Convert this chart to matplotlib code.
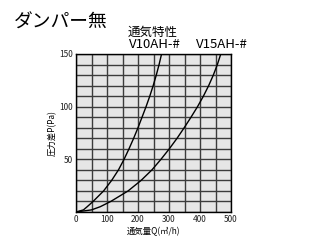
import matplotlib.pyplot as plt
import numpy as np

plt.rcParams['font.family'] = ['Noto Sans CJK JP', 'DejaVu Sans']

# readings (P in Pa, Q in m3/h)
pressure = [0, 2, 5, 10, 20, 30, 40, 50, 60, 70, 80, 90, 100, 110, 120, 130, 140, 150]
q_v10 = [0, 24, 36, 55, 89, 115, 137, 155, 171, 186, 200, 213, 226, 238, 249, 259, 268, 276]
q_v15 = [0, 50, 78, 112, 168, 210, 245, 274, 301, 326, 349, 371, 392, 411, 428, 443, 456, 467]

x_ticks = [0, 100, 200, 300, 400, 500]
y_ticks = [50, 100, 150]

fig = plt.figure(figsize=(3.2, 2.4), dpi=100)
ax = fig.add_axes([76 / 320, 1 - 212 / 240, 155 / 320, 158 / 240])
ax.set_facecolor('#e6e6e6')

ax.plot(q_v10, pressure, color='black', lw=1.0)
ax.plot(q_v15, pressure, color='black', lw=1.0)

ax.set_xlim(0, 500)
ax.set_ylim(0, 150)
ax.set_xticks(x_ticks)
ax.set_yticks(y_ticks)
ax.set_xticks(np.arange(0, 501, 50), minor=True)
ax.set_yticks(np.arange(0, 151, 10), minor=True)
ax.grid(which='both', color='#3c3c3c', lw=1.0)
ax.set_axisbelow(True)
ax.tick_params(which='both', length=0, labelsize=6, pad=2, colors='#222222')
for s in ax.spines.values():
    s.set_color('black')
    s.set_linewidth(1.0)

ax.set_xlabel('通気量Q(㎥/h)', fontsize=6, labelpad=2)
ax.set_ylabel('圧力差P(Pa)', fontsize=6, labelpad=2)

fig.text(14 / 320, 1 - 22 / 240, 'ダンパー無', fontsize=13.5, va='center', ha='left')
fig.text(128 / 320, 1 - 32 / 240, '通気特性', fontsize=9, va='center', ha='left')
fig.text(129 / 320, 1 - 45 / 240, 'V10AH-#', fontsize=9.5, va='center', ha='left')
fig.text(196 / 320, 1 - 45 / 240, 'V15AH-#', fontsize=9.5, va='center', ha='left')

fig.savefig('out.png', dpi=100)
